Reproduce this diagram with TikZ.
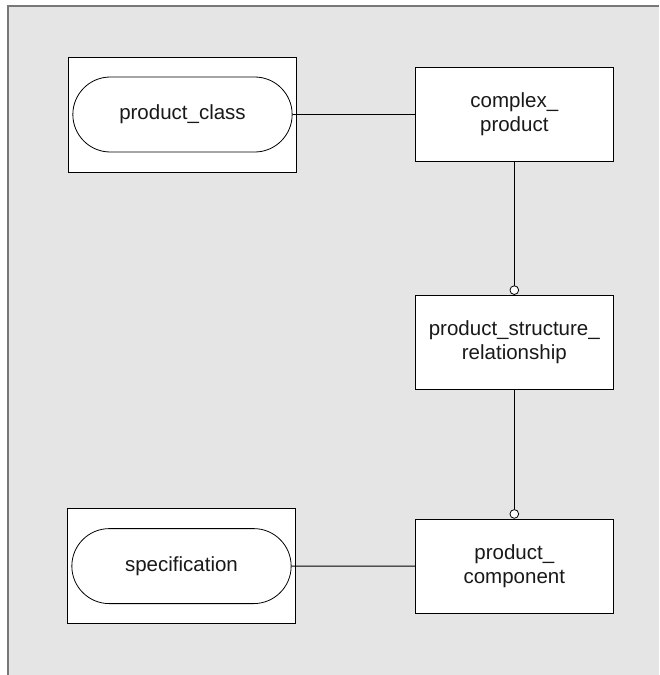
\documentclass[tikz,border=0pt]{standalone}
\usepackage{fontspec}
\setmainfont{Liberation Sans}
\usepackage{tikz}
\usetikzlibrary{shapes,shapes.misc,arrows,arrows.meta,calc}
\usetikzlibrary{positioning}
\definecolor{clrBack}{RGB}{229,229,229}
\definecolor{clrBorders}{RGB}{120,120,120}
\tikzstyle{box_style0}=[draw=black, line width=0.8pt, fill=white,
anchor=center, text centered, text=black!90, align=center,
font={\fontsize{20.5}{24}\selectfont}]
\tikzstyle{entity}=[box_style0, minimum width=198pt, minimum height=94pt]
\tikzstyle{holder}=[box_style0, minimum width=228pt, minimum height=115pt]
\tikzstyle{pill}=[box_style0, rounded rectangle, minimum width=226pt, minimum height=75pt]
\tikzstyle{link}=[line width=0.8pt]
\tikzstyle{optlink}=[link, -{Circle[length=9.5pt, fill=white, line width=0.8pt]}]

\begin{document}
\begin{tikzpicture}[x=1pt, y=-1pt]
		\useasboundingbox (0,0) rectangle (659,675);
		% background
		\fill[clrBack] (8,6) rectangle (659,675);
		\draw[clrBorders, line width=2pt] (8,675) -- (8,6) -- (659,6);

		\node[holder] (A) at (182.5,114.5) {};
		\node[pill] (A1) at (A) {product\_class};

		\node[entity, right=118pt of A] (B) {complex\_\\product};
		\draw[link] (A1) -- (B);

		\node[entity, below=133pt of B] (C) {product\_structure\_\\relationship};
		\draw[optlink] (B) -- (C);

		\node[entity, below=129pt of C] (D) {product\_\\component};
		\draw[optlink] (C) -- (D);

		\node[holder, left=119pt of D] (E) {};
		\node[pill] (E1) at (E) {specification};
		\draw[link] (E1) -- (D);
	\end{tikzpicture}
\end{document}
